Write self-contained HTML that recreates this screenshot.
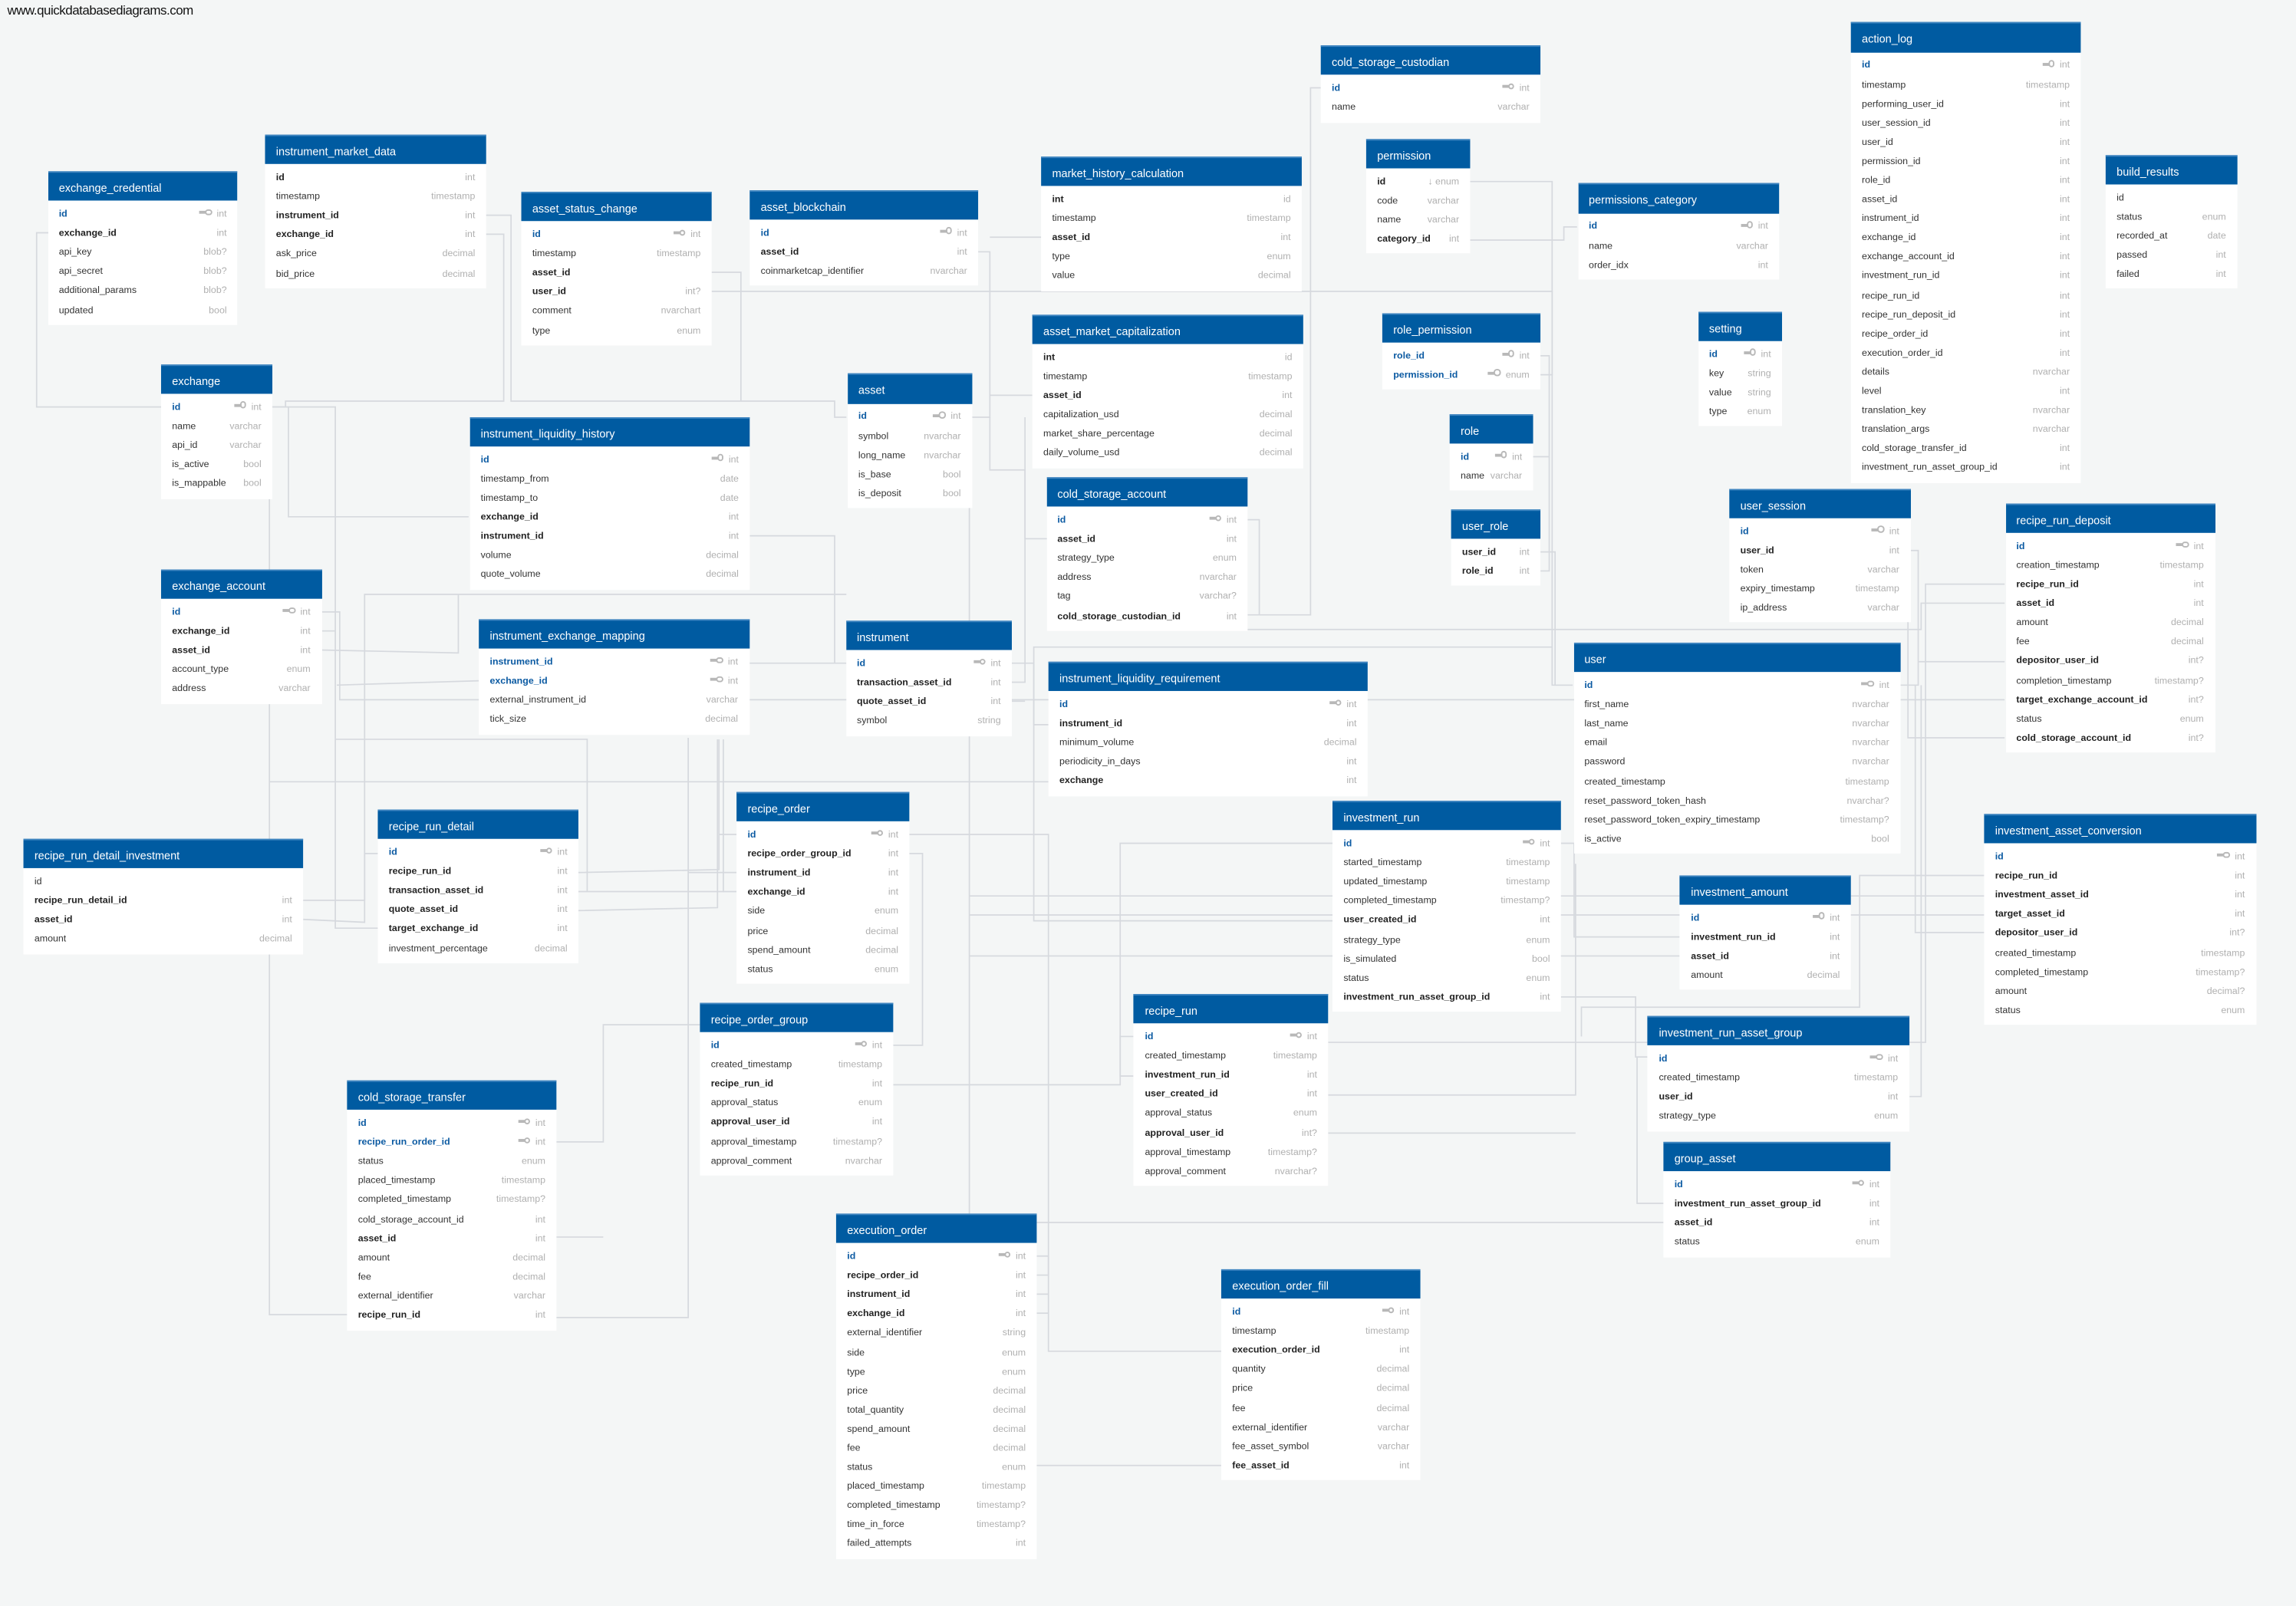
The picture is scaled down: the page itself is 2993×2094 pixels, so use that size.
<!DOCTYPE html>
<html><head><meta charset="utf-8">
<style>
html,body{margin:0;padding:0;background:#f4f6f6;width:2993px;height:2093px;overflow:hidden}
#c{position:absolute;left:0;top:0;width:1568px;height:1097px;transform:scale(1.9088);transform-origin:0 0;font-family:"Liberation Sans",sans-serif}
.wm{position:absolute;left:5px;top:1.5px;font-size:8.9px;color:#111;letter-spacing:-0.25px}
svg{position:absolute;left:0;top:0}
.t{position:absolute;background:#fff}
.h{background:#005ba1;color:#fff;height:20.3px;line-height:21px;padding-left:7.5px;font-size:7.6px;box-sizing:border-box;border-top:1px solid #3f85c0;white-space:nowrap}
.b{padding:2.75px 0 3.45px}
.r{height:13.1px;line-height:13.1px;padding:0 7.5px;display:flex;justify-content:space-between;font-size:6.5px;color:#333;white-space:nowrap}
.r i{font-style:normal;color:#b0b0b0}
.p{color:#0b5aa2;font-weight:bold}
.f{font-weight:bold;color:#222}
.k{display:inline-block;width:5px;height:2px;background:#b8b8b8;position:relative;margin-right:7px;vertical-align:middle;top:-1px}
.k:after{content:'';position:absolute;right:-3.5px;top:-1.6px;width:2.6px;height:2.6px;border:1.1px solid #b8b8b8;border-radius:50%;background:#fff}
</style></head><body><div id="c">
<div class="wm">www.quickdatabasediagrams.com</div>
<svg width="1568" height="1097" viewBox="0 0 1568 1097" fill="none" stroke="#d6d9de" stroke-width="0.9">
<path d="M110,278 H25 V159 H33"/>
<path d="M186,278 H195 V274 H344 V160 H331"/>
<path d="M331,147 H349 V274 H570 V285 H578"/>
<path d="M486,186 H506 V274"/>
<path d="M486,199 H1060 V468 H1074"/>
<path d="M668,172 H676 V285 H663"/>
<path d="M711,162 H676"/>
<path d="M705,270 H676"/>
<path d="M676,285 V321 H700 V368 H715"/>
<path d="M902,60 H895 V420 H852"/>
<path d="M1004,124 H1060 V256 H1052"/>
<path d="M1077,155 H1068 V164 H1004"/>
<path d="M1047,312 H1058 V243 H1052"/>
<path d="M1058,312 V390 H1052"/>
<path d="M1074,468 H1062 V377 H1052"/>
<path d="M1297,468 H1310 V376 H1305"/>
<path d="M1310,452 H1369"/>
<path d="M1369,399 H1315 V712 H907"/>
<path d="M1369,412 H1312 V430 H852"/>
<path d="M219,418 H232 V478 H1369"/>
<path d="M852,355 H860 V420"/>
<path d="M1303,420 V504 H1369"/>
<path d="M910,576 H765 V735 H774"/>
<path d="M910,629 H706 V442 H1060"/>
<path d="M1066,681 H1117 V722 H1125"/>
<path d="M1147,640 H1075 V576 H1066"/>
<path d="M662,340 V835 H1136"/>
<path d="M662,612 H1355"/>
<path d="M662,625 H1355"/>
<path d="M662,653 H1147"/>
<path d="M1355,598 H1270 V688 H1080 V708"/>
<path d="M1355,637 H1308 V468"/>
<path d="M1304,749 H1312 V468"/>
<path d="M1136,822 H1118 V722"/>
<path d="M621,570 H716 V871 H708"/>
<path d="M610,714 H630 V583 H621"/>
<path d="M774,708 H765 V741 H610"/>
<path d="M907,748 H1076 V590"/>
<path d="M907,774 H1076"/>
<path d="M708,858 H716 V923 H834"/>
<path d="M834,1001 H662 V835"/>
<path d="M708,884 H716"/>
<path d="M708,897 H716"/>
<path d="M395,596 L491,594 V505"/>
<path d="M395,609 H494 V505"/>
<path d="M395,622 L490,620 V505"/>
<path d="M470,504 V900 H380"/>
<path d="M207,615 H249 V583 H258"/>
<path d="M207,628 L249,630 V406 H578"/>
<path d="M219,444 L313,446 V406"/>
<path d="M186,278 H229 V634 H258"/>
<path d="M219,431 H229"/>
<path d="M327,465 L230,468"/>
<path d="M184,340 V898 H237"/>
<path d="M184,534 H716"/>
<path d="M229,505 H401 V609"/>
<path d="M511,453 H578"/>
<path d="M691,466 H700 V285"/>
<path d="M691,479 H700"/>
<path d="M691,453 H706 V495 H716"/>
<path d="M320,353 H197 V278"/>
<path d="M512,366 H570 V453"/>
<path d="M380,780 H412 V700 H478"/>
<path d="M380,845 H412"/>
<path d="M503,570 H491"/>
<path d="M503,596 H470"/>
<path d="M503,609 H494"/>
</svg>

<div class="t" style="left:32.7px;top:117px;width:129.7px"><div class="h">exchange_credential</div><div class="b">
<div class="r"><span class="p">id</span><i><b class="k"></b>int</i></div>
<div class="r"><span class="f">exchange_id</span><i>int</i></div>
<div class="r"><span>api_key</span><i>blob?</i></div>
<div class="r"><span>api_secret</span><i>blob?</i></div>
<div class="r"><span>additional_params</span><i>blob?</i></div>
<div class="r"><span>updated</span><i>bool</i></div></div></div>

<div class="t" style="left:181px;top:92px;width:151px"><div class="h">instrument_market_data</div><div class="b">
<div class="r"><span class="f">id</span><i>int</i></div>
<div class="r"><span>timestamp</span><i>timestamp</i></div>
<div class="r"><span class="f">instrument_id</span><i>int</i></div>
<div class="r"><span class="f">exchange_id</span><i>int</i></div>
<div class="r"><span>ask_price</span><i>decimal</i></div>
<div class="r"><span>bid_price</span><i>decimal</i></div></div></div>

<div class="t" style="left:356px;top:131px;width:130px"><div class="h">asset_status_change</div><div class="b">
<div class="r"><span class="p">id</span><i><b class="k"></b>int</i></div>
<div class="r"><span>timestamp</span><i>timestamp</i></div>
<div class="r"><span class="f">asset_id</span><i></i></div>
<div class="r"><span class="f">user_id</span><i>int?</i></div>
<div class="r"><span>comment</span><i>nvarchart</i></div>
<div class="r"><span>type</span><i>enum</i></div></div></div>

<div class="t" style="left:512px;top:129.5px;width:156px"><div class="h">asset_blockchain</div><div class="b">
<div class="r"><span class="p">id</span><i><b class="k"></b>int</i></div>
<div class="r"><span class="f">asset_id</span><i>int</i></div>
<div class="r"><span>coinmarketcap_identifier</span><i>nvarchar</i></div></div></div>

<div class="t" style="left:711px;top:106.7px;width:178px"><div class="h">market_history_calculation</div><div class="b">
<div class="r"><span class="f">int</span><i>id</i></div>
<div class="r"><span>timestamp</span><i>timestamp</i></div>
<div class="r"><span class="f">asset_id</span><i>int</i></div>
<div class="r"><span>type</span><i>enum</i></div>
<div class="r"><span>value</span><i>decimal</i></div></div></div>

<div class="t" style="left:705px;top:214.5px;width:185px"><div class="h">asset_market_capitalization</div><div class="b">
<div class="r"><span class="f">int</span><i>id</i></div>
<div class="r"><span>timestamp</span><i>timestamp</i></div>
<div class="r"><span class="f">asset_id</span><i>int</i></div>
<div class="r"><span>capitalization_usd</span><i>decimal</i></div>
<div class="r"><span>market_share_percentage</span><i>decimal</i></div>
<div class="r"><span>daily_volume_usd</span><i>decimal</i></div></div></div>

<div class="t" style="left:902px;top:31px;width:150px"><div class="h">cold_storage_custodian</div><div class="b">
<div class="r"><span class="p">id</span><i><b class="k"></b>int</i></div>
<div class="r"><span>name</span><i>varchar</i></div></div></div>

<div class="t" style="left:933px;top:94.5px;width:71px"><div class="h">permission</div><div class="b">
<div class="r"><span class="f">id</span><i>&#8595; enum</i></div>
<div class="r"><span>code</span><i>varchar</i></div>
<div class="r"><span>name</span><i>varchar</i></div>
<div class="r"><span class="f">category_id</span><i>int</i></div></div></div>

<div class="t" style="left:944px;top:213.5px;width:108px"><div class="h">role_permission</div><div class="b">
<div class="r"><span class="p">role_id</span><i><b class="k"></b>int</i></div>
<div class="r"><span class="p">permission_id</span><i><b class="k"></b>enum</i></div></div></div>

<div class="t" style="left:990px;top:282.5px;width:57px"><div class="h">role</div><div class="b">
<div class="r"><span class="p">id</span><i><b class="k"></b>int</i></div>
<div class="r"><span>name</span><i>varchar</i></div></div></div>

<div class="t" style="left:991px;top:347.5px;width:61px"><div class="h">user_role</div><div class="b">
<div class="r"><span class="f">user_id</span><i>int</i></div>
<div class="r"><span class="f">role_id</span><i>int</i></div></div></div>

<div class="t" style="left:578.7px;top:255.4px;width:85px"><div class="h">asset</div><div class="b">
<div class="r"><span class="p">id</span><i><b class="k"></b>int</i></div>
<div class="r"><span>symbol</span><i>nvarchar</i></div>
<div class="r"><span>long_name</span><i>nvarchar</i></div>
<div class="r"><span>is_base</span><i>bool</i></div>
<div class="r"><span>is_deposit</span><i>bool</i></div></div></div>

<div class="t" style="left:714.6px;top:326px;width:137.4px"><div class="h">cold_storage_account</div><div class="b">
<div class="r"><span class="p">id</span><i><b class="k"></b>int</i></div>
<div class="r"><span class="f">asset_id</span><i>int</i></div>
<div class="r"><span>strategy_type</span><i>enum</i></div>
<div class="r"><span>address</span><i>nvarchar</i></div>
<div class="r"><span>tag</span><i>varchar?</i></div>
<div class="r"><span class="f">cold_storage_custodian_id</span><i>int</i></div></div></div>

<div class="t" style="left:110px;top:248.6px;width:76px"><div class="h">exchange</div><div class="b">
<div class="r"><span class="p">id</span><i><b class="k"></b>int</i></div>
<div class="r"><span>name</span><i>varchar</i></div>
<div class="r"><span>api_id</span><i>varchar</i></div>
<div class="r"><span>is_active</span><i>bool</i></div>
<div class="r"><span>is_mappable</span><i>bool</i></div></div></div>

<div class="t" style="left:320.8px;top:284.6px;width:191.2px"><div class="h">instrument_liquidity_history</div><div class="b">
<div class="r"><span class="p">id</span><i><b class="k"></b>int</i></div>
<div class="r"><span>timestamp_from</span><i>date</i></div>
<div class="r"><span>timestamp_to</span><i>date</i></div>
<div class="r"><span class="f">exchange_id</span><i>int</i></div>
<div class="r"><span class="f">instrument_id</span><i>int</i></div>
<div class="r"><span>volume</span><i>decimal</i></div>
<div class="r"><span>quote_volume</span><i>decimal</i></div></div></div>

<div class="t" style="left:1077.5px;top:125.4px;width:137.5px"><div class="h">permissions_category</div><div class="b">
<div class="r"><span class="p">id</span><i><b class="k"></b>int</i></div>
<div class="r"><span>name</span><i>varchar</i></div>
<div class="r"><span>order_idx</span><i>int</i></div></div></div>

<div class="t" style="left:1159.7px;top:212.6px;width:57.3px"><div class="h">setting</div><div class="b">
<div class="r"><span class="p">id</span><i><b class="k"></b>int</i></div>
<div class="r"><span>key</span><i>string</i></div>
<div class="r"><span>value</span><i>string</i></div>
<div class="r"><span>type</span><i>enum</i></div></div></div>

<div class="t" style="left:1264px;top:15.4px;width:157px"><div class="h">action_log</div><div class="b">
<div class="r"><span class="p">id</span><i><b class="k"></b>int</i></div>
<div class="r"><span>timestamp</span><i>timestamp</i></div>
<div class="r"><span>performing_user_id</span><i>int</i></div>
<div class="r"><span>user_session_id</span><i>int</i></div>
<div class="r"><span>user_id</span><i>int</i></div>
<div class="r"><span>permission_id</span><i>int</i></div>
<div class="r"><span>role_id</span><i>int</i></div>
<div class="r"><span>asset_id</span><i>int</i></div>
<div class="r"><span>instrument_id</span><i>int</i></div>
<div class="r"><span>exchange_id</span><i>int</i></div>
<div class="r"><span>exchange_account_id</span><i>int</i></div>
<div class="r"><span>investment_run_id</span><i>int</i></div>
<div class="r"><span>recipe_run_id</span><i>int</i></div>
<div class="r"><span>recipe_run_deposit_id</span><i>int</i></div>
<div class="r"><span>recipe_order_id</span><i>int</i></div>
<div class="r"><span>execution_order_id</span><i>int</i></div>
<div class="r"><span>details</span><i>nvarchar</i></div>
<div class="r"><span>level</span><i>int</i></div>
<div class="r"><span>translation_key</span><i>nvarchar</i></div>
<div class="r"><span>translation_args</span><i>nvarchar</i></div>
<div class="r"><span>cold_storage_transfer_id</span><i>int</i></div>
<div class="r"><span>investment_run_asset_group_id</span><i>int</i></div></div></div>

<div class="t" style="left:1438px;top:105.5px;width:89.7px"><div class="h">build_results</div><div class="b">
<div class="r"><span>id</span><i></i></div>
<div class="r"><span>status</span><i>enum</i></div>
<div class="r"><span>recorded_at</span><i>date</i></div>
<div class="r"><span>passed</span><i>int</i></div>
<div class="r"><span>failed</span><i>int</i></div></div></div>

<div class="t" style="left:1181px;top:333.5px;width:123.6px"><div class="h">user_session</div><div class="b">
<div class="r"><span class="p">id</span><i><b class="k"></b>int</i></div>
<div class="r"><span class="f">user_id</span><i>int</i></div>
<div class="r"><span>token</span><i>varchar</i></div>
<div class="r"><span>expiry_timestamp</span><i>timestamp</i></div>
<div class="r"><span>ip_address</span><i>varchar</i></div></div></div>

<div class="t" style="left:1369.5px;top:343.8px;width:143px"><div class="h">recipe_run_deposit</div><div class="b">
<div class="r"><span class="p">id</span><i><b class="k"></b>int</i></div>
<div class="r"><span>creation_timestamp</span><i>timestamp</i></div>
<div class="r"><span class="f">recipe_run_id</span><i>int</i></div>
<div class="r"><span class="f">asset_id</span><i>int</i></div>
<div class="r"><span>amount</span><i>decimal</i></div>
<div class="r"><span>fee</span><i>decimal</i></div>
<div class="r"><span class="f">depositor_user_id</span><i>int?</i></div>
<div class="r"><span>completion_timestamp</span><i>timestamp?</i></div>
<div class="r"><span class="f">target_exchange_account_id</span><i>int?</i></div>
<div class="r"><span>status</span><i>enum</i></div>
<div class="r"><span class="f">cold_storage_account_id</span><i>int?</i></div></div></div>

<div class="t" style="left:110px;top:389px;width:109.5px"><div class="h">exchange_account</div><div class="b">
<div class="r"><span class="p">id</span><i><b class="k"></b>int</i></div>
<div class="r"><span class="f">exchange_id</span><i>int</i></div>
<div class="r"><span class="f">asset_id</span><i>int</i></div>
<div class="r"><span>account_type</span><i>enum</i></div>
<div class="r"><span>address</span><i>varchar</i></div></div></div>

<div class="t" style="left:327px;top:423px;width:184.5px"><div class="h">instrument_exchange_mapping</div><div class="b">
<div class="r"><span class="p">instrument_id</span><i><b class="k"></b>int</i></div>
<div class="r"><span class="p">exchange_id</span><i><b class="k"></b>int</i></div>
<div class="r"><span>external_instrument_id</span><i>varchar</i></div>
<div class="r"><span>tick_size</span><i>decimal</i></div></div></div>

<div class="t" style="left:258px;top:553px;width:137px"><div class="h">recipe_run_detail</div><div class="b">
<div class="r"><span class="p">id</span><i><b class="k"></b>int</i></div>
<div class="r"><span class="f">recipe_run_id</span><i>int</i></div>
<div class="r"><span class="f">transaction_asset_id</span><i>int</i></div>
<div class="r"><span class="f">quote_asset_id</span><i>int</i></div>
<div class="r"><span class="f">target_exchange_id</span><i>int</i></div>
<div class="r"><span>investment_percentage</span><i>decimal</i></div></div></div>

<div class="t" style="left:16px;top:572.7px;width:191px"><div class="h">recipe_run_detail_investment</div><div class="b">
<div class="r"><span>id</span><i></i></div>
<div class="r"><span class="f">recipe_run_detail_id</span><i>int</i></div>
<div class="r"><span class="f">asset_id</span><i>int</i></div>
<div class="r"><span>amount</span><i>decimal</i></div></div></div>

<div class="t" style="left:577.7px;top:424px;width:113.3px"><div class="h">instrument</div><div class="b">
<div class="r"><span class="p">id</span><i><b class="k"></b>int</i></div>
<div class="r"><span class="f">transaction_asset_id</span><i>int</i></div>
<div class="r"><span class="f">quote_asset_id</span><i>int</i></div>
<div class="r"><span>symbol</span><i>string</i></div></div></div>

<div class="t" style="left:716px;top:452px;width:218px"><div class="h">instrument_liquidity_requirement</div><div class="b">
<div class="r"><span class="p">id</span><i><b class="k"></b>int</i></div>
<div class="r"><span class="f">instrument_id</span><i>int</i></div>
<div class="r"><span>minimum_volume</span><i>decimal</i></div>
<div class="r"><span>periodicity_in_days</span><i>int</i></div>
<div class="r"><span class="f">exchange</span><i>int</i></div></div></div>

<div class="t" style="left:503px;top:541px;width:118px"><div class="h">recipe_order</div><div class="b">
<div class="r"><span class="p">id</span><i><b class="k"></b>int</i></div>
<div class="r"><span class="f">recipe_order_group_id</span><i>int</i></div>
<div class="r"><span class="f">instrument_id</span><i>int</i></div>
<div class="r"><span class="f">exchange_id</span><i>int</i></div>
<div class="r"><span>side</span><i>enum</i></div>
<div class="r"><span>price</span><i>decimal</i></div>
<div class="r"><span>spend_amount</span><i>decimal</i></div>
<div class="r"><span>status</span><i>enum</i></div></div></div>

<div class="t" style="left:910px;top:547px;width:156px"><div class="h">investment_run</div><div class="b">
<div class="r"><span class="p">id</span><i><b class="k"></b>int</i></div>
<div class="r"><span>started_timestamp</span><i>timestamp</i></div>
<div class="r"><span>updated_timestamp</span><i>timestamp</i></div>
<div class="r"><span>completed_timestamp</span><i>timestamp?</i></div>
<div class="r"><span class="f">user_created_id</span><i>int</i></div>
<div class="r"><span>strategy_type</span><i>enum</i></div>
<div class="r"><span>is_simulated</span><i>bool</i></div>
<div class="r"><span>status</span><i>enum</i></div>
<div class="r"><span class="f">investment_run_asset_group_id</span><i>int</i></div></div></div>

<div class="t" style="left:774.4px;top:679px;width:132.6px"><div class="h">recipe_run</div><div class="b">
<div class="r"><span class="p">id</span><i><b class="k"></b>int</i></div>
<div class="r"><span>created_timestamp</span><i>timestamp</i></div>
<div class="r"><span class="f">investment_run_id</span><i>int</i></div>
<div class="r"><span class="f">user_created_id</span><i>int</i></div>
<div class="r"><span>approval_status</span><i>enum</i></div>
<div class="r"><span class="f">approval_user_id</span><i>int?</i></div>
<div class="r"><span>approval_timestamp</span><i>timestamp?</i></div>
<div class="r"><span>approval_comment</span><i>nvarchar?</i></div></div></div>

<div class="t" style="left:478px;top:685px;width:132px"><div class="h">recipe_order_group</div><div class="b">
<div class="r"><span class="p">id</span><i><b class="k"></b>int</i></div>
<div class="r"><span>created_timestamp</span><i>timestamp</i></div>
<div class="r"><span class="f">recipe_run_id</span><i>int</i></div>
<div class="r"><span>approval_status</span><i>enum</i></div>
<div class="r"><span class="f">approval_user_id</span><i>int</i></div>
<div class="r"><span>approval_timestamp</span><i>timestamp?</i></div>
<div class="r"><span>approval_comment</span><i>nvarchar</i></div></div></div>

<div class="t" style="left:1074.5px;top:439px;width:223.2px"><div class="h">user</div><div class="b">
<div class="r"><span class="p">id</span><i><b class="k"></b>int</i></div>
<div class="r"><span>first_name</span><i>nvarchar</i></div>
<div class="r"><span>last_name</span><i>nvarchar</i></div>
<div class="r"><span>email</span><i>nvarchar</i></div>
<div class="r"><span>password</span><i>nvarchar</i></div>
<div class="r"><span>created_timestamp</span><i>timestamp</i></div>
<div class="r"><span>reset_password_token_hash</span><i>nvarchar?</i></div>
<div class="r"><span>reset_password_token_expiry_timestamp</span><i>timestamp?</i></div>
<div class="r"><span>is_active</span><i>bool</i></div></div></div>

<div class="t" style="left:1147.3px;top:597.6px;width:116.7px"><div class="h">investment_amount</div><div class="b">
<div class="r"><span class="p">id</span><i><b class="k"></b>int</i></div>
<div class="r"><span class="f">investment_run_id</span><i>int</i></div>
<div class="r"><span class="f">asset_id</span><i>int</i></div>
<div class="r"><span>amount</span><i>decimal</i></div></div></div>

<div class="t" style="left:1355px;top:556px;width:185.6px"><div class="h">investment_asset_conversion</div><div class="b">
<div class="r"><span class="p">id</span><i><b class="k"></b>int</i></div>
<div class="r"><span class="f">recipe_run_id</span><i>int</i></div>
<div class="r"><span class="f">investment_asset_id</span><i>int</i></div>
<div class="r"><span class="f">target_asset_id</span><i>int</i></div>
<div class="r"><span class="f">depositor_user_id</span><i>int?</i></div>
<div class="r"><span>created_timestamp</span><i>timestamp</i></div>
<div class="r"><span>completed_timestamp</span><i>timestamp?</i></div>
<div class="r"><span>amount</span><i>decimal?</i></div>
<div class="r"><span>status</span><i>enum</i></div></div></div>

<div class="t" style="left:1125.4px;top:694px;width:178.3px"><div class="h">investment_run_asset_group</div><div class="b">
<div class="r"><span class="p">id</span><i><b class="k"></b>int</i></div>
<div class="r"><span>created_timestamp</span><i>timestamp</i></div>
<div class="r"><span class="f">user_id</span><i>int</i></div>
<div class="r"><span>strategy_type</span><i>enum</i></div></div></div>

<div class="t" style="left:1136px;top:780px;width:155px"><div class="h">group_asset</div><div class="b">
<div class="r"><span class="p">id</span><i><b class="k"></b>int</i></div>
<div class="r"><span class="f">investment_run_asset_group_id</span><i>int</i></div>
<div class="r"><span class="f">asset_id</span><i>int</i></div>
<div class="r"><span>status</span><i>enum</i></div></div></div>

<div class="t" style="left:237px;top:738px;width:143px"><div class="h">cold_storage_transfer</div><div class="b">
<div class="r"><span class="p">id</span><i><b class="k"></b>int</i></div>
<div class="r"><span class="p">recipe_run_order_id</span><i><b class="k"></b>int</i></div>
<div class="r"><span>status</span><i>enum</i></div>
<div class="r"><span>placed_timestamp</span><i>timestamp</i></div>
<div class="r"><span>completed_timestamp</span><i>timestamp?</i></div>
<div class="r"><span>cold_storage_account_id</span><i>int</i></div>
<div class="r"><span class="f">asset_id</span><i>int</i></div>
<div class="r"><span>amount</span><i>decimal</i></div>
<div class="r"><span>fee</span><i>decimal</i></div>
<div class="r"><span>external_identifier</span><i>varchar</i></div>
<div class="r"><span class="f">recipe_run_id</span><i>int</i></div></div></div>

<div class="t" style="left:571px;top:829px;width:137px"><div class="h">execution_order</div><div class="b">
<div class="r"><span class="p">id</span><i><b class="k"></b>int</i></div>
<div class="r"><span class="f">recipe_order_id</span><i>int</i></div>
<div class="r"><span class="f">instrument_id</span><i>int</i></div>
<div class="r"><span class="f">exchange_id</span><i>int</i></div>
<div class="r"><span>external_identifier</span><i>string</i></div>
<div class="r"><span>side</span><i>enum</i></div>
<div class="r"><span>type</span><i>enum</i></div>
<div class="r"><span>price</span><i>decimal</i></div>
<div class="r"><span>total_quantity</span><i>decimal</i></div>
<div class="r"><span>spend_amount</span><i>decimal</i></div>
<div class="r"><span>fee</span><i>decimal</i></div>
<div class="r"><span>status</span><i>enum</i></div>
<div class="r"><span>placed_timestamp</span><i>timestamp</i></div>
<div class="r"><span>completed_timestamp</span><i>timestamp?</i></div>
<div class="r"><span>time_in_force</span><i>timestamp?</i></div>
<div class="r"><span>failed_attempts</span><i>int</i></div></div></div>

<div class="t" style="left:834px;top:867px;width:136px"><div class="h">execution_order_fill</div><div class="b">
<div class="r"><span class="p">id</span><i><b class="k"></b>int</i></div>
<div class="r"><span>timestamp</span><i>timestamp</i></div>
<div class="r"><span class="f">execution_order_id</span><i>int</i></div>
<div class="r"><span>quantity</span><i>decimal</i></div>
<div class="r"><span>price</span><i>decimal</i></div>
<div class="r"><span>fee</span><i>decimal</i></div>
<div class="r"><span>external_identifier</span><i>varchar</i></div>
<div class="r"><span>fee_asset_symbol</span><i>varchar</i></div>
<div class="r"><span class="f">fee_asset_id</span><i>int</i></div></div></div>

</div></body></html>
